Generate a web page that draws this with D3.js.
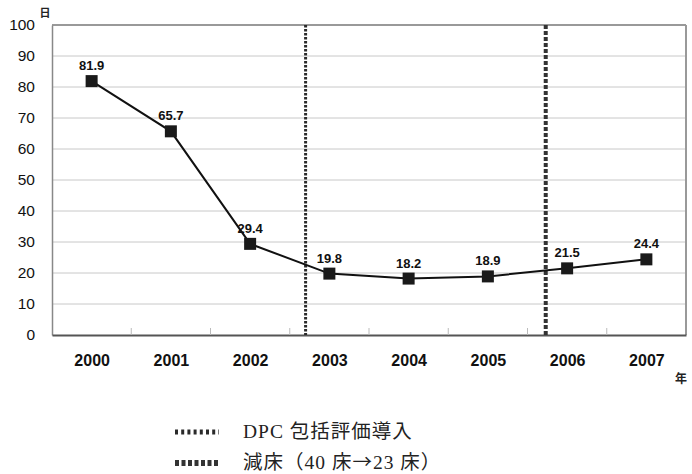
<!DOCTYPE html>
<html>
<head>
<meta charset="utf-8">
<script src="https://cdn.jsdelivr.net/npm/d3@7/dist/d3.min.js"></script>
<style>
  html, body { margin: 0; padding: 0; background: #fff; }
  svg { display: block; }
</style>
</head>
<body>
<svg id="chart" width="692" height="474"></svg>
<script>
// Average length of hospital stay (days) by fiscal year
const years = [2000, 2001, 2002, 2003, 2004, 2005, 2006, 2007];
const stayDays = [81.9, 65.7, 29.4, 19.8, 18.2, 18.9, 21.5, 24.4];
const yTicks = [0, 10, 20, 30, 40, 50, 60, 70, 80, 90, 100];

// Events marked with vertical lines (position in year units)
const eventNames = ["DPC 包括評価導入", "減床（40 床→23 床）"];
const eventYears = [2002.7, 2005.73];

const svg = d3.select("#chart");
const plotL = 52, plotR = 686, plotT = 25, plotB = 335;
const sansFont = "'Liberation Sans', Arial, Helvetica, sans-serif";
const cjkFont = "'Noto Sans CJK JP', sans-serif";

const x = d3.scaleLinear().domain([years[0] - 0.5, years[years.length - 1] + 0.5]).range([plotL, plotR]);
const y = d3.scaleLinear().domain([0, 100]).range([plotB, plotT]);

// Horizontal gridlines
svg.append("g")
  .selectAll("line")
  .data(yTicks.filter(d => d > 0 && d < 100))
  .join("line")
  .attr("x1", plotL).attr("x2", plotR)
  .attr("y1", d => y(d)).attr("y2", d => y(d))
  .attr("stroke", "#c8c8c8").attr("stroke-width", 1);

// Plot frame
svg.append("line").attr("x1", plotL).attr("x2", plotR).attr("y1", plotT).attr("y2", plotT)
  .attr("stroke", "#999").attr("stroke-width", 2);
svg.append("line").attr("x1", plotR).attr("x2", plotR).attr("y1", plotT).attr("y2", plotB)
  .attr("stroke", "#999").attr("stroke-width", 2);

// Y axis
const yAxis = svg.append("g")
  .attr("transform", `translate(${plotL},0)`)
  .call(d3.axisLeft(y).tickValues(yTicks).tickSize(0).tickPadding(17));
yAxis.select(".domain").attr("stroke", "#888").attr("stroke-width", 1.5);
yAxis.selectAll("text")
  .attr("font-family", sansFont).attr("font-size", 15.5).attr("fill", "#111");

// X axis with inner category ticks at band boundaries
const xAxis = svg.append("g")
  .attr("transform", `translate(0,${plotB})`)
  .call(d3.axisBottom(x).tickValues(years).tickFormat(d3.format("d")).tickSize(0).tickPadding(20));
xAxis.select(".domain").attr("stroke", "#555").attr("stroke-width", 2);
xAxis.selectAll("text")
  .attr("font-family", sansFont).attr("font-size", 16).attr("font-weight", "bold").attr("fill", "#111");

svg.append("g")
  .selectAll("line")
  .data(years.slice(1))
  .join("line")
  .attr("x1", d => x(d - 0.5)).attr("x2", d => x(d - 0.5))
  .attr("y1", plotB).attr("y2", plotB - 7)
  .attr("stroke", "#bbb").attr("stroke-width", 1);

// Unit labels
svg.append("text").attr("x", 45).attr("y", 17).attr("text-anchor", "middle")
  .attr("font-family", cjkFont).attr("font-size", 11).attr("font-weight", "bold")
  .attr("fill", "#222").text("日");
svg.append("text").attr("x", 681).attr("y", 383).attr("text-anchor", "middle")
  .attr("font-family", cjkFont).attr("font-size", 12).attr("font-weight", "bold")
  .attr("fill", "#222").text("年");

// Event line styles
const eventStyles = [
  { width: 3, dash: "2.5,1.5", color: "#2a2a2a" },
  { width: 4, dash: "4,2", color: "#333" }
];

svg.append("g")
  .selectAll("line")
  .data(eventYears)
  .join("line")
  .attr("x1", d => x(d)).attr("x2", d => x(d))
  .attr("y1", plotT).attr("y2", plotB)
  .attr("stroke", (d, i) => eventStyles[i].color)
  .attr("stroke-width", (d, i) => eventStyles[i].width)
  .attr("stroke-dasharray", (d, i) => eventStyles[i].dash);

// Data line
const line = d3.line().x((d, i) => x(years[i])).y(d => y(d));
svg.append("path").datum(stayDays)
  .attr("d", line).attr("fill", "none").attr("stroke", "#111").attr("stroke-width", 2);

// Square markers
const ms = 12;
svg.append("g")
  .selectAll("rect")
  .data(stayDays)
  .join("rect")
  .attr("x", (d, i) => x(years[i]) - ms / 2)
  .attr("y", d => y(d) - ms / 2)
  .attr("width", ms).attr("height", ms)
  .attr("fill", "#1a1a1a");

// Value labels
svg.append("g")
  .selectAll("text")
  .data(stayDays)
  .join("text")
  .attr("x", (d, i) => x(years[i]))
  .attr("y", d => y(d) - 11)
  .attr("text-anchor", "middle")
  .attr("font-family", sansFont).attr("font-size", 13).attr("font-weight", "bold")
  .attr("fill", "#111")
  .text(d => d.toFixed(1));

// Legend: serif text, with the arrow set in the CJK face so it is full width
const legend = svg.append("g");
eventNames.forEach((name, i) => {
  const ly = 432 + i * 31;
  const s = eventStyles[i];
  legend.append("line")
    .attr("x1", 175).attr("x2", 219).attr("y1", ly).attr("y2", ly)
    .attr("stroke", s.color).attr("stroke-width", i === 0 ? 5 : 6)
    .attr("stroke-dasharray", i === 0 ? "3,3.2" : "4,2.5");
  const t = legend.append("text")
    .attr("x", 243).attr("y", ly + 6)
    .attr("font-family", "'Liberation Serif', 'DejaVu Serif', 'Noto Sans CJK JP', serif")
    .attr("font-size", 19.5).attr("letter-spacing", 1).attr("fill", "#222");
  name.split(/(→)/).filter(p => p.length).forEach(part => {
    const ts = t.append("tspan").text(part);
    if (part === "→") ts.attr("font-family", cjkFont);
  });
});
</script>
</body>
</html>
